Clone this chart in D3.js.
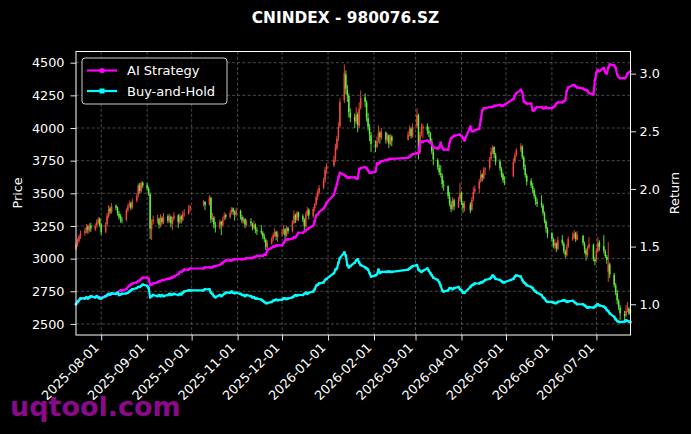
<!DOCTYPE html>
<html><head><meta charset="utf-8">
<script src="https://cdn.jsdelivr.net/npm/d3@7"></script>
<style>
html,body{margin:0;padding:0;background:#000;}
svg{display:block;}
text{font-family:"DejaVu Sans",sans-serif;}
</style>
</head><body>
<svg id="chart" width="691" height="434"></svg>
<script>
// ---- calendar ----
const startDate = "2025-07-15";
const endDate = "2026-07-24";
const holidays = ["2025-10-01","2025-10-02","2025-10-03","2025-10-06","2025-10-07","2025-10-08",
  "2026-01-01","2026-01-02","2026-02-16","2026-02-17","2026-02-18","2026-02-19","2026-02-20","2026-02-23",
  "2026-04-06","2026-05-01","2026-05-04","2026-05-05","2026-06-19"];

// ---- candles (one line per week) ----
const openPrices = [
 3075,3105,3135,3175,
 3195,3205,3245,3215,3255,
 3225,3255,3275,3305,3262,
 3205,3265,3325,3385,3355,
 3405,3392,3345,3325,3298,
 3295,3372,3405,3425,3395,
 3445,3485,3565,3515,3582,
 3565,3535,3495,3225,3285,
 3298,3305,3255,3312,3275,
 3325,3285,3322,3265,3305,
 3332,3278,3325,3295,3345,
 3345,3385,
 3420,3435,
 3415,3465,3295,3315,3255,
 3238,3282,3255,3305,3335,
 3318,3355,3385,3358,3335,
 3365,3318,3285,3302,3255,
 3285,3268,3235,3262,3218,
 3212,3198,3168,3145,3085,
 3118,3152,3178,3205,3165,
 3192,3198,3225,3175,3235,
 3212,3275,3335,3298,3355,
 3325,3298,3245,3338,3375,
 3325,3385,3418,3475,3505,
 3545,3605,3685,
 3715,3765,3845,3925,4015,
 4210,4410,4295,4245,4115,
 4085,4045,4105,4015,4155,
 4235,4195,4075,4005,3945,
 3875,3855,3905,3965,3925,
 3965,3905,3945,3875,3935,
 3910,3955,3995,3935,
 4015,4095,3815,3955,3995,
 4015,3975,3955,3895,3815,
 3755,3695,3655,3635,3565,
 3555,3475,3415,3385,3445,
 3398,3455,3505,3425,3385,
 3415,3375,3455,3515,
 3535,3595,3645,3615,3685,
 3695,3765,3815,3855,3795,
 3745,3685,3645,3595,
 3630,3745,3795,
 3835,3855,3775,3695,3635,
 3595,3555,3525,3475,3435,
 3425,3405,3345,3285,3225,
 3195,3145,3095,3115,3075,
 3145,3115,3055,3025,3095,
 3145,3165,3195,3145,
 3175,3115,3065,3025,3085,
 3105,2995,2985,3055,3125,
 3095,3055,3015,2900,2955,
 2875,2795,2735,2675,2625,
 2575,2565,2605,2615,2585
];
const highPrices = [
 3115,3155,3185,3215,
 3235,3265,3260,3270,3275,
 3270,3300,3318,3315,3270,
 3280,3350,3410,3400,3425,
 3415,3398,3365,3340,3320,
 3385,3420,3445,3435,3460,
 3500,3575,3580,3593,3590,
 3578,3550,3505,3300,3330,
 3335,3315,3340,3325,3350,
 3340,3345,3330,3320,3356,
 3340,3345,3335,3365,3380,
 3410,3412,
 3448,3440,
 3486,3475,3350,3325,3280,
 3300,3290,3320,3356,3345,
 3370,3395,3392,3370,3390,
 3375,3333,3320,3310,3300,
 3310,3275,3290,3270,3240,
 3257,3210,3190,3155,3140,
 3165,3200,3234,3215,3210,
 3225,3257,3235,3250,3245,
 3295,3371,3345,3365,3360,
 3340,3310,3360,3395,3385,
 3395,3425,3490,3530,3562,
 3620,3700,3730,
 3790,3880,3940,4044,4227,
 4487,4441,4330,4265,4150,
 4110,4160,4120,4197,4288,
 4265,4210,4113,4030,3970,
 3905,3935,4021,3980,4000,
 3975,3960,3950,3955,3945,
 3975,4020,4005,4036,
 4151,4110,3970,4036,4030,
 4036,4010,3970,3921,3840,
 3768,3720,3715,3650,3600,
 3560,3509,3440,3470,3460,
 3475,3578,3515,3440,3440,
 3432,3470,3547,3560,
 3610,3677,3655,3700,3700,
 3780,3850,3868,3860,3810,
 3760,3700,3660,3630,
 3768,3810,3845,
 3883,3870,3790,3720,3650,
 3616,3580,3540,3490,3460,
 3486,3420,3360,3300,3240,
 3203,3160,3150,3125,3170,
 3180,3130,3070,3110,3170,
 3200,3218,3205,3210,
 3180,3130,3080,3100,3165,
 3115,3010,3080,3165,3140,
 3180,3070,3030,3127,2970,
 2890,2813,2760,2690,2645,
 2600,2645,2668,2630,2640
];
const lowPrices = [
 3065,3090,3120,3150,
 3175,3195,3190,3200,3205,
 3210,3235,3260,3240,3180,
 3195,3250,3310,3340,3345,
 3370,3330,3300,3275,3270,
 3285,3355,3390,3370,3380,
 3430,3470,3500,3505,3540,
 3520,3480,3150,3142,3260,
 3270,3230,3240,3260,3265,
 3270,3275,3240,3218,3290,
 3234,3265,3270,3285,3320,
 3335,3360,
 3400,3371,
 3405,3272,3280,3230,3200,
 3225,3180,3245,3290,3300,
 3305,3340,3335,3290,3320,
 3300,3270,3270,3234,3245,
 3250,3215,3225,3195,3180,
 3185,3150,3125,3066,3075,
 3105,3135,3165,3140,3127,
 3170,3185,3142,3165,3190,
 3200,3265,3272,3285,3290,
 3280,3218,3235,3325,3300,
 3310,3360,3405,3450,3490,
 3530,3580,3650,
 3700,3740,3830,3900,4000,
 4190,4260,4200,4080,4044,
 4000,4030,3967,4000,4140,
 4160,4050,3982,3900,3815,
 3815,3845,3890,3880,3910,
 3880,3890,3845,3865,3860,
 3906,3935,3920,3925,
 4000,3760,3800,3935,3921,
 3950,3930,3880,3800,3715,
 3680,3639,3620,3539,3520,
 3460,3400,3356,3370,3370,
 3387,3440,3410,3350,3360,
 3348,3365,3440,3495,
 3501,3580,3590,3605,3640,
 3680,3750,3800,3770,3715,
 3670,3620,3580,3562,
 3624,3730,3780,
 3815,3760,3680,3620,3560,
 3540,3500,3460,3410,3395,
 3390,3330,3270,3200,3157,
 3130,3080,3070,3050,3065,
 3100,3040,3004,3015,3080,
 3135,3150,3127,3140,
 3100,3040,2985,3010,3070,
 2980,2951,2970,3045,3060,
 3040,3004,2960,2821,2850,
 2780,2720,2650,2607,2531,
 2514,2550,2590,2569,2570
];
const closePrices = [
 3100,3140,3170,3190,
 3210,3240,3220,3250,3230,
 3250,3280,3300,3260,3200,
 3260,3330,3380,3360,3400,
 3390,3350,3320,3300,3290,
 3370,3400,3420,3390,3440,
 3480,3560,3520,3580,3560,
 3540,3500,3230,3280,3300,
 3300,3260,3310,3280,3320,
 3290,3320,3270,3300,3330,
 3280,3320,3300,3340,3350,
 3380,3400,
 3430,3410,
 3470,3300,3310,3260,3240,
 3280,3260,3300,3330,3320,
 3350,3380,3360,3340,3370,
 3320,3290,3300,3260,3280,
 3270,3240,3260,3220,3210,
 3200,3170,3150,3090,3120,
 3150,3180,3200,3170,3190,
 3200,3220,3180,3230,3210,
 3280,3330,3300,3350,3320,
 3300,3250,3340,3370,3330,
 3380,3420,3470,3510,3540,
 3600,3680,3710,
 3760,3850,3920,4010,4200,
 4420,4300,4250,4120,4080,
 4050,4100,4020,4150,4230,
 4200,4080,4010,3950,3880,
 3860,3900,3960,3930,3970,
 3910,3940,3880,3930,3900,
 3950,3990,3940,4010,
 4100,3820,3950,3990,4010,
 3980,3960,3900,3820,3760,
 3700,3660,3640,3570,3560,
 3480,3420,3380,3450,3400,
 3450,3500,3430,3390,3420,
 3370,3450,3510,3530,
 3590,3640,3620,3680,3690,
 3760,3820,3850,3800,3740,
 3690,3640,3600,3590,
 3740,3790,3830,
 3860,3780,3700,3640,3590,
 3560,3530,3480,3440,3420,
 3410,3350,3290,3230,3190,
 3150,3100,3120,3080,3140,
 3120,3060,3030,3090,3150,
 3170,3190,3150,3180,
 3120,3070,3030,3080,3110,
 3000,2980,3060,3120,3090,
 3060,3020,2990,2960,2880,
 2800,2740,2680,2630,2580,
 2560,2600,2620,2580,2610
];

// ---- cumulative returns ----
const aiStrategy = [
 1.00,1.02,1.035,1.05,
 1.05,1.06,1.05,1.06,1.065,
 1.06,1.07,1.065,1.06,1.06,
 1.07,1.075,1.08,1.08,1.09,
 1.09,1.10,1.11,1.12,1.12,
 1.13,1.15,1.16,1.17,1.18,
 1.19,1.20,1.21,1.22,1.23,
 1.23,1.22,1.165,1.17,1.18,
 1.19,1.20,1.20,1.21,1.21,
 1.22,1.22,1.23,1.23,1.24,
 1.26,1.28,1.28,1.29,1.30,
 1.30,1.31,
 1.31,1.32,
 1.32,1.32,1.32,1.33,1.33,
 1.34,1.35,1.36,1.37,1.38,
 1.38,1.38,1.385,1.39,1.39,
 1.39,1.39,1.39,1.395,1.40,
 1.40,1.40,1.41,1.41,1.42,
 1.42,1.42,1.43,1.43,1.47,
 1.49,1.50,1.50,1.51,1.51,
 1.51,1.53,1.55,1.56,1.56,
 1.57,1.58,1.58,1.60,1.62,
 1.62,1.63,1.64,1.65,1.66,
 1.68,1.72,1.77,1.78,1.80,
 1.83,1.85,1.88,
 1.95,2.00,2.04,2.10,2.14,
 2.12,2.11,2.10,2.10,2.10,
 2.10,2.09,2.09,2.17,2.18,
 2.19,2.18,2.16,2.14,2.14,
 2.15,2.22,2.22,2.23,2.24,
 2.25,2.25,2.26,2.26,2.26,
 2.27,2.28,2.29,2.30,
 2.31,2.31,2.40,2.41,2.41,
 2.42,2.41,2.40,2.39,2.36,
 2.35,2.36,2.40,2.36,2.34,
 2.34,2.40,2.44,2.45,2.46,
 2.47,2.47,2.46,2.44,2.42,
 2.54,2.50,2.50,2.51,
 2.52,2.60,2.68,2.70,2.70,
 2.71,2.71,2.71,2.72,2.72,
 2.73,2.72,2.72,2.73,
 2.78,2.81,2.83,
 2.86,2.84,2.76,2.75,2.74,
 2.74,2.68,2.68,2.70,2.71,
 2.71,2.70,2.70,2.71,2.70,
 2.70,2.71,2.72,2.74,2.75,
 2.75,2.76,2.77,2.85,2.88,
 2.90,2.90,2.89,2.88,
 2.87,2.86,2.86,2.85,2.83,
 2.82,2.94,3.01,3.03,3.02,
 3.05,3.01,3.00,3.05,3.08,
 3.07,3.05,2.99,2.97,2.96,
 2.96,2.97,3.00,3.01,3.02
];
const buyAndHold = [
 1.00,1.02,1.035,1.05,
 1.05,1.06,1.05,1.06,1.07,
 1.06,1.07,1.06,1.05,1.05,
 1.07,1.08,1.09,1.085,1.095,
 1.09,1.10,1.08,1.085,1.09,
 1.095,1.10,1.11,1.12,1.13,
 1.14,1.15,1.15,1.16,1.17,
 1.16,1.14,1.06,1.07,1.08,
 1.07,1.08,1.07,1.08,1.07,
 1.08,1.09,1.08,1.085,1.09,
 1.08,1.09,1.085,1.10,1.11,
 1.12,1.12,
 1.12,1.13,
 1.13,1.10,1.09,1.07,1.06,
 1.08,1.07,1.08,1.09,1.10,
 1.10,1.11,1.10,1.095,1.10,
 1.09,1.08,1.08,1.07,1.08,
 1.07,1.06,1.06,1.05,1.05,
 1.04,1.03,1.02,1.01,1.01,
 1.02,1.03,1.035,1.04,1.035,
 1.04,1.05,1.05,1.045,1.05,
 1.06,1.07,1.08,1.075,1.08,
 1.08,1.09,1.10,1.09,1.10,
 1.11,1.13,1.16,1.17,1.18,
 1.19,1.21,1.22,
 1.27,1.30,1.31,1.36,1.40,
 1.45,1.42,1.34,1.32,1.33,
 1.36,1.38,1.39,1.36,1.34,
 1.32,1.31,1.30,1.27,1.24,
 1.25,1.26,1.30,1.27,1.28,
 1.28,1.28,1.285,1.28,1.28,
 1.30,1.31,1.32,1.33,
 1.34,1.30,1.29,1.28,1.29,
 1.31,1.29,1.27,1.25,1.23,
 1.21,1.19,1.16,1.12,1.11,
 1.12,1.14,1.14,1.13,1.14,
 1.15,1.13,1.12,1.10,1.10,
 1.15,1.165,1.17,1.18,
 1.18,1.19,1.19,1.20,1.21,
 1.22,1.23,1.25,1.24,1.22,
 1.21,1.20,1.19,1.19,
 1.22,1.24,1.25,
 1.24,1.21,1.19,1.18,1.165,
 1.15,1.14,1.12,1.11,1.10,
 1.08,1.06,1.05,1.03,1.02,
 1.02,1.015,1.01,1.01,1.02,
 1.03,1.035,1.03,1.02,1.025,
 1.03,1.02,1.01,1.00,
 1.00,0.99,0.98,0.97,0.975,
 0.97,0.98,0.99,1.00,0.99,
 0.98,0.97,0.95,0.94,0.92,
 0.89,0.87,0.855,0.848,0.845,
 0.85,0.86,0.855,0.85,0.845
];

// ---- ticks & labels ----
const xTickLabels = ["2025-08-01","2025-09-01","2025-10-01","2025-11-01","2025-12-01","2026-01-01",
  "2026-02-01","2026-03-01","2026-04-01","2026-05-01","2026-06-01","2026-07-01"];
const priceTicks = [2500,2750,3000,3250,3500,3750,4000,4250,4500];
const returnTicks = [1.0,1.5,2.0,2.5,3.0];
const titleText = "CNINDEX - 980076.SZ";
const seriesNames = ["AI Strategy","Buy-and-Hold"];
const watermarkText = "uqtool.com";

// ---- build ----
const parse = d3.timeParse("%Y-%m-%d");
const fmt = d3.timeFormat("%Y-%m-%d");
const hol = new Set(holidays);
const tradingDays = d3.timeDay.range(parse(startDate), d3.timeDay.offset(parse(endDate), 1))
  .filter(d => d.getDay() !== 0 && d.getDay() !== 6 && !hol.has(fmt(d)));
const n = Math.min(tradingDays.length, closePrices.length, openPrices.length, highPrices.length,
  lowPrices.length, aiStrategy.length, buyAndHold.length);
const rows = d3.range(n).map(i => ({
  date: tradingDays[i], o: openPrices[i], h: highPrices[i], l: lowPrices[i], c: closePrices[i],
  ai: aiStrategy[i], bh: buyAndHold[i]
}));

const W = 691, H = 434;
const L = 76, R = 630.5, T = 51.5, B = 335;
const svg = d3.select("#chart");
svg.append("rect").attr("width", W).attr("height", H).attr("fill", "#000");

const x = d3.scaleTime().domain([rows[0].date, rows[n - 1].date]).range([L, R]);
function padded(lo, hi) { const p = (hi - lo) * 0.05; return [lo - p, hi + p]; }
const yP = d3.scaleLinear().domain(padded(d3.min(rows, d => d.l), d3.max(rows, d => d.h))).range([B, T]);
const allRet = rows.flatMap(d => [d.ai, d.bh]);
const yR = d3.scaleLinear().domain(padded(d3.min(allRet), d3.max(allRet))).range([B, T]);
const xTicks = xTickLabels.map(parse);

// watermark (under everything else)
svg.append("text").attr("x", 10).attr("y", 416)
  .attr("font-size", 27).attr("font-weight", "bold").attr("fill", "#8a0a8a")
  .text(watermarkText);

// grid
const grid = svg.append("g").attr("stroke", "#5c5c5c").attr("stroke-width", 0.8)
  .attr("stroke-dasharray", "3,2.2");
grid.selectAll(".gx").data(xTicks).join("line")
  .attr("x1", d => x(d)).attr("x2", d => x(d)).attr("y1", T).attr("y2", B);
grid.selectAll(".gy").data(priceTicks).join("line")
  .attr("x1", L).attr("x2", R).attr("y1", d => yP(d)).attr("y2", d => yP(d));

// candles
const upCol = "#f2473d", downCol = "#5ef03a";
const cg = svg.append("g");
cg.selectAll("line").data(rows).join("line")
  .attr("x1", d => x(d.date)).attr("x2", d => x(d.date))
  .attr("y1", d => yP(d.h)).attr("y2", d => yP(d.l))
  .attr("stroke", d => d.c >= d.o ? upCol : downCol).attr("stroke-width", 0.9);
cg.selectAll("rect").data(rows).join("rect")
  .attr("x", d => x(d.date) - 0.75).attr("width", 1.5)
  .attr("y", d => yP(Math.max(d.o, d.c)))
  .attr("height", d => Math.max(1, Math.abs(yP(d.o) - yP(d.c))))
  .attr("fill", d => d.c >= d.o ? upCol : downCol);

// lines
const aiCol = "#ff00ff", bhCol = "#00ffff";
const lineAI = d3.line().x(d => x(d.date)).y(d => yR(d.ai));
const lineBH = d3.line().x(d => x(d.date)).y(d => yR(d.bh));
svg.append("path").datum(rows).attr("d", lineAI).attr("fill", "none")
  .attr("stroke", aiCol).attr("stroke-width", 2.2).attr("stroke-linejoin", "round");
svg.append("g").selectAll("circle").data(rows).join("circle")
  .attr("cx", d => x(d.date)).attr("cy", d => yR(d.ai)).attr("r", 1.3).attr("fill", aiCol);
svg.append("path").datum(rows).attr("d", lineBH).attr("fill", "none")
  .attr("stroke", bhCol).attr("stroke-width", 2.2).attr("stroke-linejoin", "round");
svg.append("g").selectAll("rect").data(rows).join("rect")
  .attr("x", d => x(d.date) - 1.2).attr("y", d => yR(d.bh) - 1.2)
  .attr("width", 2.4).attr("height", 2.4).attr("fill", bhCol);

// spines
svg.append("rect").attr("x", L).attr("y", T).attr("width", R - L).attr("height", B - T)
  .attr("fill", "none").attr("stroke", "#fff").attr("stroke-width", 1);

function styleAxis(g) {
  g.select(".domain").remove();
  g.selectAll(".tick line").attr("stroke", "#fff").attr("stroke-width", 0.9);
  g.selectAll(".tick text").attr("fill", "#fff").attr("font-size", 12.8)
    .attr("font-family", "DejaVu Sans, sans-serif");
}
const axL = svg.append("g").attr("transform", `translate(${L},0)`)
  .call(d3.axisLeft(yP).tickValues(priceTicks).tickFormat(d3.format("d")).tickSize(5.5).tickPadding(6));
styleAxis(axL);
const axR = svg.append("g").attr("transform", `translate(${R},0)`)
  .call(d3.axisRight(yR).tickValues(returnTicks).tickFormat(d3.format(".1f")).tickSize(5.5).tickPadding(3.5));
styleAxis(axR);
const axB = svg.append("g").attr("transform", `translate(0,${B})`)
  .call(d3.axisBottom(x).tickValues(xTicks).tickFormat(fmt).tickSize(5.5));
styleAxis(axB);
axB.selectAll(".tick text").attr("y", null).attr("dy", null)
  .attr("text-anchor", "end").attr("transform", "translate(-2,13.5) rotate(-45)");

// axis labels
svg.append("text").attr("transform", "translate(22,193) rotate(-90)").attr("text-anchor", "middle")
  .attr("fill", "#fff").attr("font-size", 12.8).text("Price");
svg.append("text").attr("transform", "translate(679,193) rotate(-90)").attr("text-anchor", "middle")
  .attr("fill", "#fff").attr("font-size", 12.8).text("Return");

// title
svg.append("text").attr("x", 345.5).attr("y", 23).attr("text-anchor", "middle")
  .attr("fill", "#fff").attr("font-size", 15.4).attr("font-weight", "bold").text(titleText);

// legend
const lg = svg.append("g");
lg.append("rect").attr("x", 82).attr("y", 58).attr("width", 145).attr("height", 46).attr("rx", 3)
  .attr("fill", "#000").attr("fill-opacity", 0.8).attr("stroke", "#cccccc").attr("stroke-width", 1);
const lgItems = [{name: seriesNames[0], col: aiCol, y: 70.5, mk: "circle"},
                 {name: seriesNames[1], col: bhCol, y: 91, mk: "square"}];
lgItems.forEach(it => {
  lg.append("line").attr("x1", 87).attr("x2", 117).attr("y1", it.y).attr("y2", it.y)
    .attr("stroke", it.col).attr("stroke-width", 2.2);
  if (it.mk === "circle") lg.append("circle").attr("cx", 102).attr("cy", it.y).attr("r", 2.6).attr("fill", it.col);
  else lg.append("rect").attr("x", 99.5).attr("y", it.y - 2.5).attr("width", 5).attr("height", 5).attr("fill", it.col);
  lg.append("text").attr("x", 127).attr("y", it.y + 4.6).attr("fill", "#fff").attr("font-size", 13).text(it.name);
});
</script>
</body></html>
